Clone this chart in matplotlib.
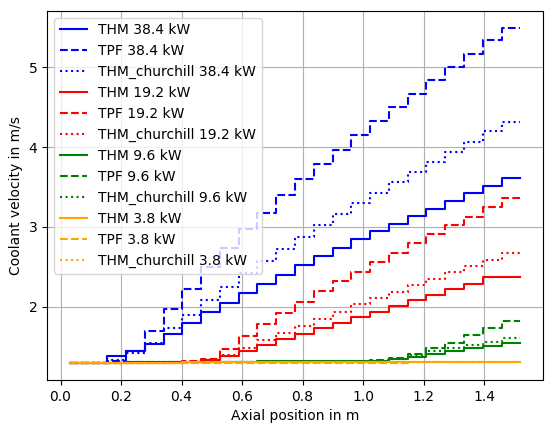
import numpy as np
import matplotlib.pyplot as plt

edges = np.linspace(0.03, 1.52, 25)

thm_384 = [1.30, 1.30, 1.38, 1.45, 1.53, 1.66, 1.80, 1.93, 2.05, 2.17, 2.28, 2.40,
           2.52, 2.63, 2.74, 2.85, 2.95, 3.04, 3.14, 3.23, 3.32, 3.42, 3.52, 3.62]
tpf_384 = [1.30, 1.30, 1.32, 1.45, 1.70, 1.97, 2.22, 2.50, 2.74, 2.97, 3.18, 3.40,
           3.60, 3.79, 3.97, 4.15, 4.33, 4.50, 4.67, 4.84, 5.01, 5.17, 5.34, 5.50]
chu_384 = [1.30, 1.30, 1.33, 1.42, 1.55, 1.73, 1.90, 2.08, 2.25, 2.42, 2.57, 2.73,
           2.88, 3.02, 3.16, 3.30, 3.43, 3.56, 3.69, 3.82, 3.94, 4.07, 4.20, 4.32]
thm_192 = [1.30, 1.30, 1.30, 1.30, 1.30, 1.30, 1.31, 1.33, 1.38, 1.45, 1.52, 1.59,
           1.66, 1.73, 1.80, 1.87, 1.94, 2.01, 2.08, 2.15, 2.22, 2.29, 2.37, 2.37]
tpf_192 = [1.30, 1.30, 1.30, 1.30, 1.30, 1.30, 1.32, 1.35, 1.47, 1.63, 1.78, 1.92,
           2.06, 2.20, 2.32, 2.44, 2.56, 2.68, 2.80, 2.91, 3.02, 3.13, 3.25, 3.36]
chu_192 = [1.30, 1.30, 1.30, 1.30, 1.30, 1.30, 1.31, 1.33, 1.39, 1.48, 1.58, 1.67,
           1.76, 1.85, 1.94, 2.03, 2.11, 2.19, 2.27, 2.35, 2.43, 2.51, 2.59, 2.67]
thm_96 = [1.30, 1.30, 1.30, 1.31, 1.31, 1.31, 1.31, 1.31, 1.31, 1.31, 1.32, 1.32,
          1.32, 1.32, 1.32, 1.32, 1.32, 1.34, 1.37, 1.41, 1.45, 1.48, 1.51, 1.54]
tpf_96 = [1.30, 1.30, 1.30, 1.31, 1.31, 1.31, 1.31, 1.31, 1.31, 1.31, 1.31, 1.31,
          1.31, 1.31, 1.31, 1.31, 1.33, 1.36, 1.41, 1.48, 1.55, 1.64, 1.73, 1.82]
chu_96 = [1.30, 1.30, 1.30, 1.31, 1.31, 1.31, 1.31, 1.31, 1.31, 1.31, 1.31, 1.31,
          1.31, 1.31, 1.31, 1.31, 1.32, 1.35, 1.39, 1.44, 1.48, 1.52, 1.56, 1.61]
thm_38 = [1.30] * 6 + [1.31] * 18
tpf_38 = [1.29] * 6 + [1.30] * 12 + [1.31] * 6
chu_38 = [1.29] * 6 + [1.30] * 12 + [1.31] * 6

series = [
    ("38.4", "blue", thm_384, tpf_384, chu_384),
    ("19.2", "red", thm_192, tpf_192, chu_192),
    ("9.6", "green", thm_96, tpf_96, chu_96),
    ("3.8", "orange", thm_38, tpf_38, chu_38),
]

fig, ax = plt.subplots(figsize=(5.54, 4.32), dpi=100)
fig.subplots_adjust(left=0.085, right=0.98, bottom=0.12, top=0.975)

for pw, col, thm, tpf, chu in series:
    for vals, ls, name in [(thm, '-', 'THM'), (tpf, '--', 'TPF'), (chu, ':', 'THM_churchill')]:
        ax.step(edges, vals + [vals[-1]], where='post', color=col, linestyle=ls,
                label=f"{name} {pw} kW")

ax.set_xlabel("Axial position in m")
ax.set_ylabel("Coolant velocity in m/s")
ax.grid(True)
ax.legend(loc='upper left')
fig.savefig("out.png", dpi=100)
